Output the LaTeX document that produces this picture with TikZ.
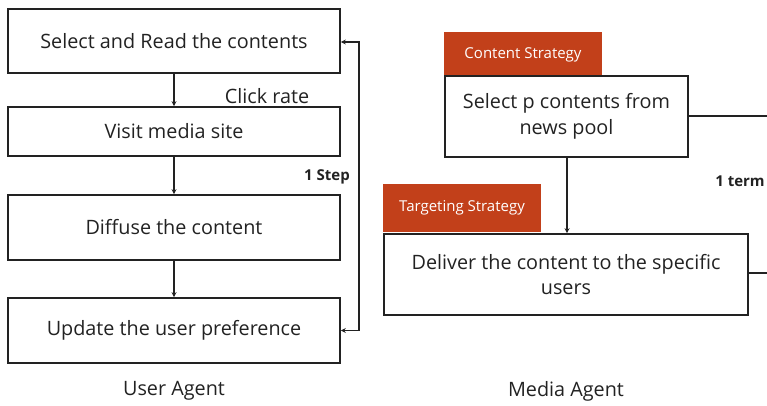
\documentclass[tikz,border=0pt]{standalone}
\usepackage{fontspec}
\setmainfont{Open Sans}
\usetikzlibrary{arrows.meta}
\definecolor{tabred}{HTML}{C2401A}
\definecolor{ink}{HTML}{222222}
\tikzset{
  box/.style={draw=ink, line width=1.6pt, rectangle, inner sep=0pt, text=ink, font=\fontsize{19.8}{25.5}\selectfont, align=center},
  tab/.style={fill=tabred, rectangle, inner sep=0pt, text=white, font=\fontsize{15}{18}\selectfont, minimum width=158pt},
  conn/.style={draw=ink, line width=1.2pt},
  arr/.style={conn, -{Stealth[length=5pt,width=5pt]}},
  lbl/.style={text=ink, inner sep=0pt, font=\fontsize{19.8}{23}\selectfont},
  blbl/.style={text=ink, inner sep=0pt, font=\fontsize{15}{18}\selectfont\bfseries}
}
\begin{document}
\begin{tikzpicture}[x=1pt,y=-1pt]
\useasboundingbox (0,0) rectangle (767,406);
% user agent
\node[box, minimum width=332pt, minimum height=64pt] (b1) at (174,41) {Select and Read the contents};
\node[box, minimum width=332pt, minimum height=49pt] (b2) at (174,131.5) {Visit media site};
\node[box, minimum width=332pt, minimum height=65pt] (b3) at (174,227.5) {Diffuse the content};
\node[box, minimum width=332pt, minimum height=65pt] (b4) at (174,330.5) {Update the user preference};
\draw[arr] (b1) -- (b2);
\draw[arr] (b2) -- (b3);
\draw[arr] (b3) -- (b4);
\coordinate (fb) at (359,185);
\draw[conn, {Stealth[length=5pt,width=5pt]}-{Stealth[length=5pt,width=5pt]}] ([yshift=-1pt]b1.east) -| (fb) |- (b4.east);
\node[lbl] (click) at (267,96) {Click rate};
\node[blbl] (step) at (327,177) {1 Step};
\node[lbl] (ua) at (174,391) {User Agent};
% media agent
\node[tab, minimum height=45pt] (cs) at (523,54.5) {Content Strategy};
\node[box, minimum width=243pt, minimum height=81pt] (ba) at (566.5,116.5) {Select p contents from\\news pool};
\node[tab, minimum height=48pt] (ts) at (462,208) {Targeting Strategy};
\node[box, minimum width=364pt, minimum height=81pt] (bb) at (566,274.5) {Deliver the content to the specific\\users};
\draw[arr] (ba.south -| 567,0) -- (bb.north -| 567,0);
\coordinate (ea) at (767,116);
\coordinate (eb) at (767,273);
\draw[conn] (ba.east |- ea) -- (ea);
\draw[conn] (bb.east |- eb) -- (eb);
\node[blbl] (term) at (740,181) {1 term};
\node[lbl] (ma) at (566,391) {Media Agent};
\end{tikzpicture}
\end{document}
